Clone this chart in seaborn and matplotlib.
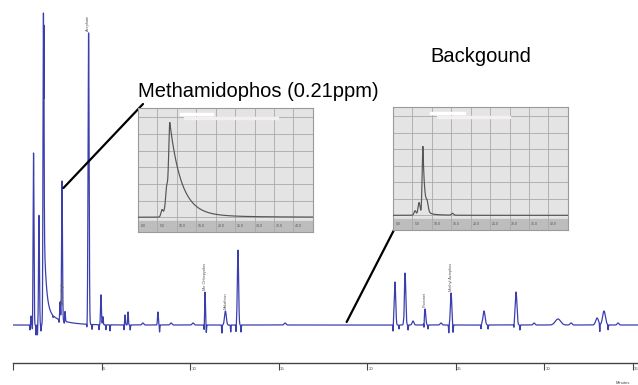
import numpy as np
import pandas as pd
import matplotlib
matplotlib.use("Agg")
import matplotlib.pyplot as plt
import seaborn as sns

# ---------------- main chromatogram: peak table ----------------
peak_times = [1.02, 1.16, 1.47, 1.72, 2.66, 2.77, 2.94, 4.27, 4.97, 5.08,
              6.33, 6.50, 7.34, 8.19, 8.93, 10.17, 10.85, 12.00, 12.71, 15.37,
              21.58, 22.15, 22.60, 23.28, 24.18, 24.75, 26.61, 28.42, 29.44,
              30.79, 31.53, 33.00, 33.39, 34.18]
peak_heights = [9, 172, 110, 312, 18, 140, 10, 292, 30, 8,
                10, 13, 2, 13, 2, 2, 33, 14, 75, 2,
                43, 52, 4, 16, 2, 32, 14, 33, 2,
                6, 2, 7, 14, 2]
peak_widths = [0.02, 0.025, 0.025, 0.025, 0.02, 0.025, 0.02, 0.03, 0.025, 0.02,
               0.02, 0.02, 0.05, 0.025, 0.05, 0.05, 0.025, 0.05, 0.035, 0.05,
               0.04, 0.04, 0.05, 0.04, 0.05, 0.04, 0.06, 0.05, 0.05,
               0.15, 0.06, 0.08, 0.08, 0.05]

# short negative spikes at the foot of the peaks
dip_times = [0.96, 1.10, 1.30, 1.38, 1.58, 2.26, 2.60, 2.90, 4.18, 4.47,
             4.86, 5.25, 5.48, 6.27, 6.62, 8.28, 10.80, 10.92, 11.80, 12.30,
             12.60, 12.88, 21.47, 21.81, 22.09, 22.32, 23.22, 23.45, 24.62,
             24.86, 26.44, 26.84, 28.30, 28.64, 33.15, 33.62]
dip_depths = [5, 10, 10, 10, 6, 2, 3, 3, 5, 5,
              5, 5, 6, 5, 5, 7, 8, 8, 8, 7,
              7, 7, 7, 4, 5, 5, 7, 4, 8,
              8, 4, 4, 4, 5, 8, 5]

# solvent front tail (two exponential components after the solvent peak)
solvent_start = 1.74
tail_amps = [90, 16]
tail_taus = [0.12, 0.8]

# compound names written above their peaks
compound_names = ["Methamidophos", "Acephate", "Me Chlorpyrifos", "Malathion",
                  "Phosmet", "Methyl Azinphos"]
compound_times = [2.80, 4.22, 10.82, 12.02, 23.26, 24.72]

x_ticks = [0, 5, 10, 15, 20, 25, 30, 35]

# ---------------- inset traces ----------------
# small peaks ahead of the main one, then the main peak with its tailing decay
inset1_times = [13.7, 15.2, 16.4]
inset1_heights = [8, 6, 30]
inset1_apex = 18.2
inset1_rise = 0.7
inset1_tail_amp = [98, 4]
inset1_tail_tau = [6.5, 25]

inset2_times = [12.6, 14.9, 19.5, 34.0]
inset2_heights = [5, 14, 8, 2]
inset2_apex = 17.1
inset2_rise = 0.45
inset2_tail_amp = [72, 3]
inset2_tail_tau = [1.0, 6]

inset_ticks = [0, 5, 10, 15, 20, 25, 30, 35, 40]


def trace(t, times, heights, widths):
    y = np.zeros_like(t)
    for c, h, w in zip(times, heights, widths):
        y += h * np.exp(-0.5 * ((t - c) / w) ** 2)
    return y


t = np.arange(0, 35.4, 0.004)
signal = trace(t, peak_times, peak_heights, peak_widths)
signal -= trace(t, dip_times, dip_depths, [0.012] * len(dip_times))
after = t > solvent_start
for a, tau in zip(tail_amps, tail_taus):
    signal[after] += a * np.exp(-(t[after] - solvent_start) / tau)

main_df = pd.DataFrame({"Minutes": t, "Signal": signal})

sns.set_theme(style="white")
plt.rcParams["font.family"] = ["Liberation Sans", "DejaVu Sans"]

W, H = 638, 385
fig = plt.figure(figsize=(W / 100, H / 100), dpi=100)
fig.patch.set_facecolor("white")

ax = fig.add_axes([13 / W, (H - 363) / H, (W - 13) / W, 363 / H])
ax.set_facecolor("white")
sns.lineplot(data=main_df, x="Minutes", y="Signal", ax=ax, color="#3b3fae",
             linewidth=0.9, estimator=None, sort=False)
ax.set_xlim(0, 625 / 17.7)
ax.set_ylim(-38, 325)
for s in ["top", "right", "left"]:
    ax.spines[s].set_visible(False)
ax.spines["bottom"].set_color("#444444")
ax.spines["bottom"].set_linewidth(1.0)
ax.set_yticks([])
ax.set_xticks(x_ticks)
ax.set_xticklabels([])
ax.tick_params(axis="x", direction="out", length=5, width=0.8, color="#444444",
               bottom=True)
ax.set_xlabel("")
ax.set_ylabel("")
for v in x_ticks[1:]:
    ax.annotate(str(v), xy=(v, 0), xycoords=("data", "axes fraction"),
                xytext=(1.0, -3), textcoords="offset points", fontsize=3.2,
                color="#555555", ha="left", va="top", annotation_clip=False)
fig.text(616 / W, 1 / H, "Minutes", fontsize=3, color="#444444")

# compound labels
for name, ct in zip(compound_names, compound_times):
    idx = np.argmin(np.abs(t - ct))
    local = signal[max(idx - 40, 0): idx + 40].max()
    y0 = 20 if name == "Methamidophos" else local + 2
    ax.text(ct, y0, name, rotation=90, fontsize=2.8, color="#555555",
            ha="center", va="bottom")

# callout text and leader lines
fig.text(138 / W, (H - 97) / H, "Methamidophos (0.21ppm)", fontsize=14.5,
         color="black", va="baseline")
fig.text(430 / W, (H - 62) / H, "Backgound", fontsize=14.5, color="black",
         va="baseline")
ax.annotate("", xy=(2.85, 137), xycoords="data",
            xytext=(143, H - 104), textcoords="figure pixels",
            arrowprops=dict(arrowstyle="-", color="black", lw=1.6,
                            shrinkA=0, shrinkB=0))
ax.annotate("", xy=(18.85, 3), xycoords="data",
            xytext=(395, H - 228), textcoords="figure pixels",
            arrowprops=dict(arrowstyle="-", color="black", lw=1.6,
                            shrinkA=0, shrinkB=0))


def draw_inset(rect, times, heights, apex, rise, tail_amp, tail_tau, bars):
    iax = fig.add_axes(rect)
    xs = np.arange(0, 100.01, 0.05)
    ys = trace(xs, times, heights, [0.6] * len(times))
    top = sum(tail_amp)
    before = xs <= apex
    ys[before] += top * np.exp(-0.5 * ((xs[before] - apex) / rise) ** 2)
    for a, tau in zip(tail_amp, tail_tau):
        ys[~before] += a * np.exp(-(xs[~before] - apex) / tau)
    df = pd.DataFrame({"x": xs, "y": ys})
    iax.set_facecolor("#e4e4e4")
    iax.axhspan(-16, -4, color="#bdbdbd", zorder=0)
    (w0, w1), (p0, p1) = bars
    iax.axhspan(110, 113, xmin=w0, xmax=w1, color="white", zorder=1)
    iax.axhspan(106, 108.5, xmin=p0, xmax=p1, color="#f6efef", zorder=1)
    sns.lineplot(data=df, x="x", y="y", ax=iax, color="#555555", linewidth=0.85,
                 estimator=None, sort=False, zorder=3)
    iax.set_xlim(0, 100)
    iax.set_ylim(-16, 118)
    iax.set_xticks(np.arange(0, 101, 11.1))
    iax.set_yticks(np.arange(0, 118, 18))
    iax.grid(True, color="#a9a9a9", linewidth=0.6)
    iax.set_axisbelow(True)
    iax.set_xticklabels([])
    iax.set_yticklabels([])
    iax.tick_params(length=0)
    iax.set_xlabel("")
    iax.set_ylabel("")
    for s in iax.spines.values():
        s.set_color("#9a9a9a")
        s.set_linewidth(0.8)
    for i, v in enumerate(inset_ticks):
        iax.text(3 + i * 11.1, -10, f"{v:.1f}", fontsize=2.6,
                 color="#555555", ha="center", va="center")
    return iax


draw_inset([138 / W, (H - 232) / H, 175 / W, 124 / H],
           inset1_times, inset1_heights, inset1_apex, inset1_rise,
           inset1_tail_amp, inset1_tail_tau, ((0.24, 0.43), (0.26, 0.80)))
draw_inset([393 / W, (H - 230) / H, 175 / W, 123 / H],
           inset2_times, inset2_heights, inset2_apex, inset2_rise,
           inset2_tail_amp, inset2_tail_tau, ((0.21, 0.41), (0.25, 0.67)))

fig.savefig("out.png", dpi=100, facecolor="white")
